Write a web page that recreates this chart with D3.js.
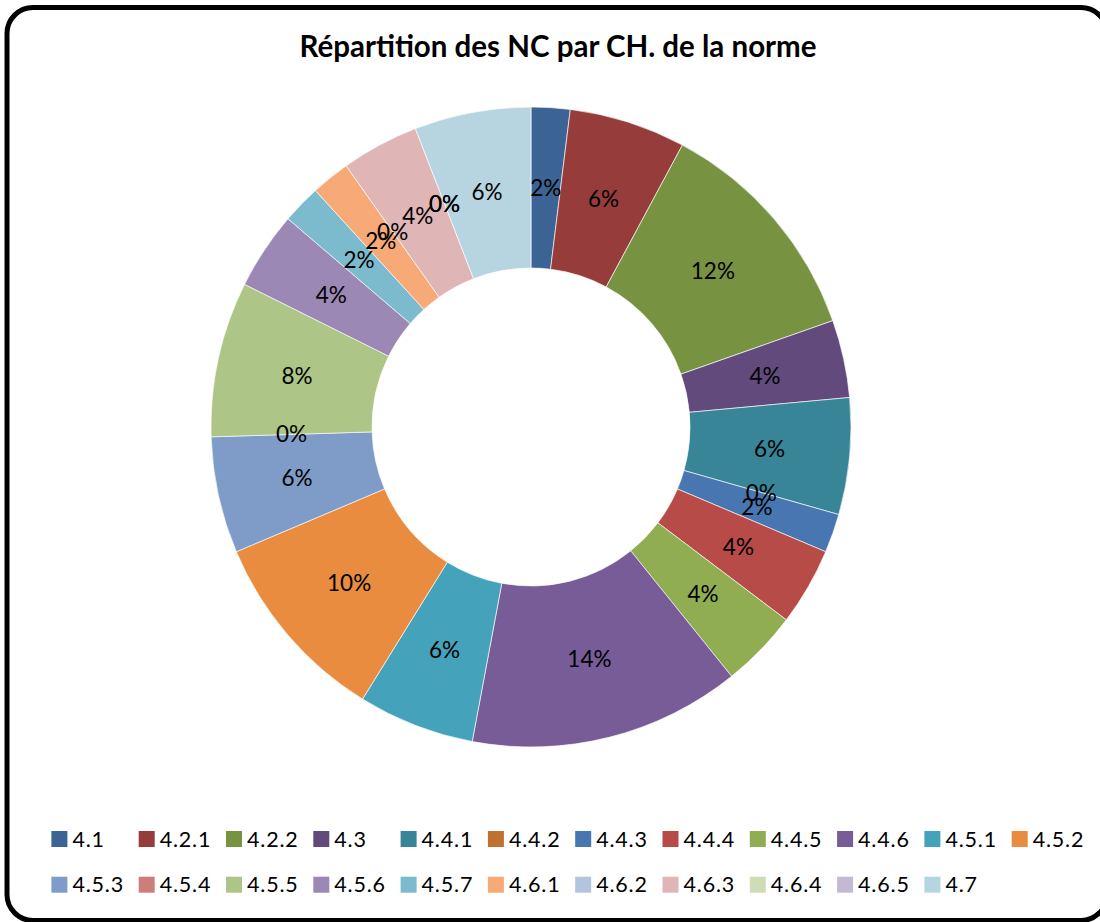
<!DOCTYPE html>
<html>
<head>
<meta charset="utf-8">
<script src="https://cdn.jsdelivr.net/npm/d3@7"></script>
<style>
  html, body { margin: 0; padding: 0; background: #fff; }
  svg { display: block; }
</style>
</head>
<body>
<svg id="chart" width="1100" height="922"></svg>
<script>
// ---- data ----
const title = "Répartition des NC par CH. de la norme";
const categories = ["4.1","4.2.1","4.2.2","4.3","4.4.1","4.4.2","4.4.3","4.4.4","4.4.5","4.4.6",
  "4.5.1","4.5.2","4.5.3","4.5.4","4.5.5","4.5.6","4.5.7","4.6.1","4.6.2","4.6.3","4.6.4","4.6.5","4.7"];
const counts = [1,3,6,2,3,0,1,2,2,7,3,5,3,0,4,2,1,1,0,2,0,0,3];
const colors = ["#3b6495","#963c3b","#779342","#624b7c","#388598","#c0712f","#4876b0","#b64b48",
  "#91ad52","#775c98","#45a2bb","#e98c40","#7f9cc8","#cd7e7c","#adc586","#9c88b4","#7cbace",
  "#f7aa78","#b5c4de","#dfb5b5","#cedcb8","#c4b9d2","#b7d5e0"];

const data = categories.map((c, i) => ({ cat: c, value: counts[i] }));
const total = d3.sum(counts);

const svg = d3.select("#chart");

// frame
svg.append("rect")
  .attr("x", 7).attr("y", 7.5)
  .attr("width", 1100).attr("height", 913)
  .attr("rx", 26).attr("ry", 26)
  .attr("fill", "#fff").attr("stroke", "#000").attr("stroke-width", 5);

// title
svg.append("text")
  .attr("x", 558).attr("y", 57)
  .attr("text-anchor", "middle")
  .attr("font-family", "Lato, 'Open Sans', sans-serif")
  .attr("font-weight", "bold")
  .attr("font-size", 29.5)
  .attr("fill", "#000")
  .text(title);

// donut
const cx = 531, cy = 427, R = 320, r = 159;
const color = d3.scaleOrdinal().domain(categories).range(colors);
const pie = d3.pie().sort(null).value(d => d.value);
const arc = d3.arc().innerRadius(r).outerRadius(R);
const arcs = pie(data);

const g = svg.append("g").attr("transform", `translate(${cx},${cy})`);
g.selectAll("path.slice")
  .data(arcs)
  .enter().append("path")
  .attr("class", "slice")
  .attr("d", arc)
  .attr("fill", d => color(d.data.cat))
  .attr("stroke", d => d.data.value > 0 ? "#fff" : "none")
  .attr("stroke-width", 0.8)
  .attr("stroke-opacity", 0.8);

const pct = d3.format(".0%");
g.selectAll("text.lbl")
  .data(arcs)
  .enter().append("text")
  .attr("class", "lbl")
  .attr("transform", d => `translate(${arc.centroid(d)})`)
  .attr("text-anchor", "middle")
  .attr("dy", "0.36em")
  .attr("font-family", "Lato, 'Open Sans', sans-serif")
  .attr("font-size", 22.5)
  .attr("fill", "#000")
  .text(d => pct(d.data.value / total));

// legend
const perRow = 12, x0 = 51.4, dx = 87.3, rowY = [839, 884.7], sq = 16;
const leg = svg.append("g");
const items = leg.selectAll("g.item")
  .data(categories)
  .enter().append("g")
  .attr("class", "item")
  .attr("transform", (d, i) => `translate(${x0 + (i % perRow) * dx},${rowY[Math.floor(i / perRow)]})`);
items.append("rect")
  .attr("x", 0).attr("y", -sq / 2)
  .attr("width", sq).attr("height", sq)
  .attr("fill", d => color(d));
items.append("text")
  .attr("x", sq + 5).attr("y", 0)
  .attr("dy", "0.36em")
  .attr("font-family", "Lato, 'Open Sans', sans-serif")
  .attr("font-size", 21.5)
  .attr("letter-spacing", 0.8)
  .attr("fill", "#000")
  .text(d => d);
</script>
</body>
</html>
